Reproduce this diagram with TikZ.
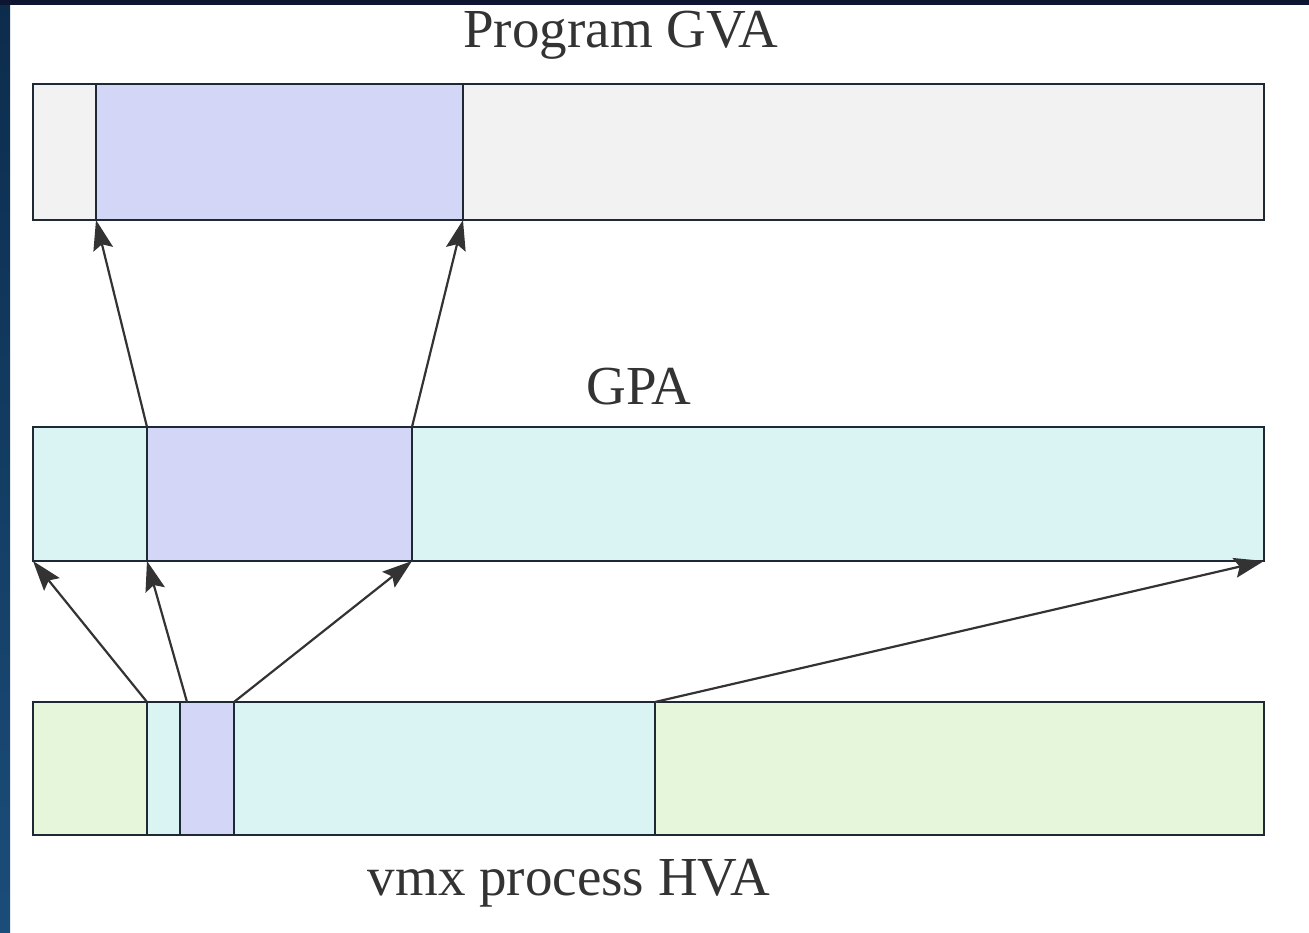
\documentclass[tikz,border=0pt]{standalone}
\usepackage{fontspec}
\setmainfont{Liberation Serif}
\usepackage{xcolor}
\usepackage{tikz}
\usetikzlibrary{arrows.meta, positioning, calc}

\definecolor{edge}{HTML}{1F2933}
\definecolor{tipgray}{HTML}{333333}
\definecolor{gvagray}{HTML}{F2F2F2}
\definecolor{selpurple}{HTML}{D4D6F7}
\definecolor{gpacyan}{HTML}{DAF4F4}
\definecolor{hvagreen}{HTML}{E5F6DA}
\definecolor{stripdark}{HTML}{0C2C4C}
\definecolor{striplight}{HTML}{1B4D7A}
\definecolor{topnavy}{HTML}{0E1530}

\begin{document}
\begin{tikzpicture}[
    x=1pt, y=-1pt,
    seg/.style={draw=edge, line width=2.9pt, inner sep=0pt, outer sep=0pt},
    label/.style={anchor=base, text=tipgray, font=\fontsize{55}{62}\selectfont},
    arrow/.style={-{Stealth[length=30pt, width=20pt, inset=5pt]}, line width=2.2pt, draw=tipgray}
]
    \useasboundingbox (0,0) rectangle (1309,933);
    \shade[top color=stripdark, bottom color=striplight] (0,0) rectangle (10,933);
    \fill[topnavy] (0,0) rectangle (1309,5);

    % guest virtual
    \node[seg, fill=gvagray, minimum width=1231, minimum height=136] at (648.5,152) (gva) {};
    \node[seg, fill=selpurple, minimum width=367, minimum height=136] at (279.5,152) (gvasel) {};
    \node[label] at (621,48) (gvalabel) {Program GVA};

    % guest physical
    \node[seg, fill=gpacyan, minimum width=1231, minimum height=134] at (648.5,494) (gpa) {};
    \node[seg, fill=selpurple, minimum width=265, minimum height=134] at (279.5,494) (gpasel) {};
    \node[label] at (639,404) (gpalabel) {GPA};

    % host virtual
    \node[seg, fill=hvagreen, minimum width=1231, minimum height=133] at (648.5,768.5) (hva) {};
    \node[seg, fill=gpacyan, minimum width=508, minimum height=133] at (401,768.5) (hvamap) {};
    \node[seg, fill=selpurple, minimum width=54, minimum height=133] at (207,768.5) (hvasel) {};
    \node[label] at (569,895) (hvalabel) {vmx process HVA};

    \draw[arrow] (gpasel.north west) -- (gvasel.south west);
    \draw[arrow] (gpasel.north east) -- (gvasel.south east);
    \draw[arrow] (hvamap.north west) -- (gpa.south west);
    \draw[arrow] ($(hvasel.north west)!0.13!(hvasel.north east)$) -- (gpasel.south west);
    \draw[arrow] (hvasel.north east) -- (gpasel.south east);
    \draw[arrow] (hvamap.north east) -- (gpa.south east);
\end{tikzpicture}
\end{document}
